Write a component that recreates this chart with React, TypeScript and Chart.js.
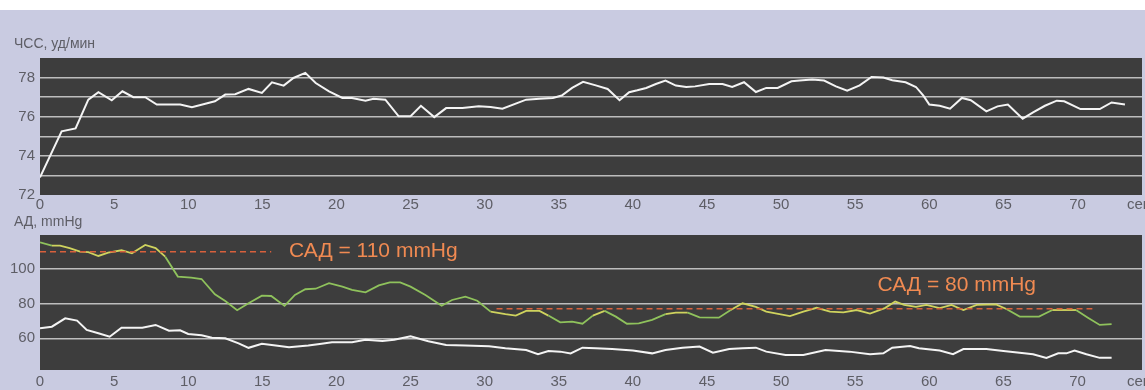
import React, { useEffect, useRef } from "react";
import { Chart, registerables } from "chart.js";
Chart.register(...registerables);

// ---------- data ----------
const xTickValues = [0, 5, 10, 15, 20, 25, 30, 35, 40, 45, 50, 55, 60, 65, 70];
const xUnitLabel = "сек";

const hrTitle = "ЧСС, уд/мин";
const hrGridValues = [72, 73, 74, 75, 76, 77, 78];
const hrTickLabels = [72, 74, 76, 78];
const hrTime = [0, 1.46, 2.4, 3.26, 3.94, 4.84, 5.56, 6.3, 7.1, 7.88, 9.46, 10.25, 11.8, 12.5, 13.17, 14.07, 14.97, 15.65, 16.44, 17.1, 17.9, 18.6, 19.5, 20.4, 21.05, 21.96, 22.5, 23.3, 24.2, 25.0, 25.7, 26.6, 27.4, 28.5, 29.6, 30.4, 31.2, 32.8, 33.7, 34.6, 35.2, 35.9, 36.64, 37.5, 38.3, 39.1, 39.75, 40.3, 40.9, 41.55, 42.2, 42.9, 43.6, 44.2, 45.15, 46.05, 46.7, 47.5, 48.3, 49.0, 49.77, 50.7, 51.25, 52.1, 52.9, 53.7, 54.46, 55.3, 56.1, 56.9, 57.5, 58.4, 59.1, 59.6, 60.0, 60.7, 61.4, 62.2, 62.8, 63.85, 64.6, 65.3, 66.3, 67.0, 67.8, 68.6, 69.1, 70.2, 71.5, 72.3, 73.2];
const hrValue = [72.9, 75.25, 75.4, 76.87, 77.25, 76.84, 77.3, 77.0, 77.0, 76.62, 76.62, 76.48, 76.79, 77.13, 77.15, 77.42, 77.22, 77.76, 77.59, 77.98, 78.24, 77.72, 77.3, 76.96, 76.96, 76.82, 76.92, 76.87, 76.02, 76.02, 76.56, 75.98, 76.44, 76.44, 76.53, 76.5, 76.41, 76.87, 76.92, 76.96, 77.08, 77.47, 77.78, 77.6, 77.42, 76.84, 77.25, 77.35, 77.47, 77.67, 77.85, 77.59, 77.52, 77.55, 77.67, 77.67, 77.52, 77.76, 77.26, 77.47, 77.47, 77.81, 77.85, 77.9, 77.85, 77.55, 77.33, 77.6, 78.03, 78.0, 77.86, 77.76, 77.52, 77.08, 76.62, 76.56, 76.41, 76.96, 76.84, 76.27, 76.53, 76.62, 75.9, 76.22, 76.56, 76.82, 76.79, 76.39, 76.39, 76.73, 76.62];

const bpTitle = "АД, mmHg";
const bpGridValues = [60, 80, 100];
const sysTime = [0, 0.8, 1.35, 2.0, 2.7, 3.26, 3.94, 4.6, 5.5, 6.2, 7.1, 7.8, 8.45, 9.3, 10.2, 10.9, 11.8, 12.5, 13.3, 14.07, 14.97, 15.6, 16.5, 17.2, 17.9, 18.6, 19.5, 20.4, 21.05, 21.96, 22.86, 23.6, 24.3, 25.0, 26.0, 27.1, 27.8, 28.7, 29.5, 30.4, 31.4, 32.1, 32.8, 33.7, 34.3, 35.1, 35.9, 36.6, 37.3, 38.1, 38.85, 39.6, 40.4, 41.3, 42.2, 42.9, 43.7, 44.5, 45.8, 46.6, 47.4, 48.3, 49.0, 50.6, 51.5, 52.4, 53.3, 54.2, 55.1, 56.0, 57.0, 57.7, 58.3, 59.1, 59.8, 60.7, 61.5, 62.3, 63.2, 64.5, 65.2, 66.1, 67.4, 68.3, 69.9, 70.7, 71.5, 72.3];
const sysValue = [115.4, 113.5, 113.5, 112, 110, 109.7, 107.5, 109.4, 110.8, 109, 113.9, 112, 107.1, 95.6, 95, 94.2, 85.4, 81.5, 76.2, 80.2, 84.6, 84.4, 78.7, 85, 88.3, 88.6, 91.8, 89.8, 87.9, 86.5, 90.5, 92.3, 92.3, 89.8, 85, 78.8, 82.1, 84, 81.7, 75.4, 73.9, 73.1, 75.8, 75.8, 73.1, 69.2, 69.6, 68.4, 73.1, 75.8, 72.5, 68.4, 68.6, 70.6, 73.9, 74.8, 74.8, 72.1, 71.9, 76.3, 80.2, 78.1, 75.4, 72.8, 75.4, 77.6, 75.4, 75, 76.3, 74.3, 77.4, 81.2, 79.3, 78.1, 79.3, 77.4, 79.3, 76.3, 79.3, 79.6, 76.9, 72.5, 72.5, 76.3, 76.3, 71.9, 67.7, 68.2];
const diaTime = [0, 0.8, 1.7, 2.5, 3.15, 3.94, 4.7, 5.5, 6.9, 7.8, 8.7, 9.45, 10.0, 10.9, 11.6, 12.5, 13.4, 14.07, 14.97, 15.9, 16.8, 18.1, 19.0, 19.7, 21.05, 21.96, 23.1, 23.9, 25.0, 26.2, 27.4, 28.7, 30.3, 31.4, 32.8, 33.6, 34.3, 35.1, 35.8, 36.6, 37.5, 38.6, 40.0, 41.3, 42.2, 43.35, 44.5, 45.4, 46.5, 47.4, 48.3, 49.0, 50.3, 51.5, 53.0, 54.6, 56.0, 56.9, 57.5, 58.7, 59.3, 60.7, 61.6, 62.3, 63.85, 65.0, 66.4, 67.0, 67.9, 68.7, 69.25, 69.8, 70.6, 71.5, 72.3];
const diaValue = [65.8, 66.7, 71.5, 70.2, 64.8, 62.9, 60.9, 66.1, 66.1, 67.7, 64.4, 64.6, 62.5, 61.7, 60.3, 60, 57.1, 54.5, 56.8, 55.8, 54.8, 55.8, 56.8, 57.7, 57.7, 59.2, 58.5, 59.2, 61.2, 58.3, 56.1, 55.8, 55.4, 54.2, 53.2, 50.8, 52.7, 52.3, 51.3, 54.6, 54.2, 53.8, 52.9, 51.3, 53.2, 54.6, 55.2, 51.7, 53.8, 54.2, 54.6, 52.3, 50.4, 50.4, 53.2, 52.3, 50.8, 51.3, 54.6, 55.6, 54.2, 52.9, 50.8, 53.8, 53.8, 52.7, 51.3, 50.8, 48.7, 51.3, 51.3, 52.9, 50.8, 48.7, 48.7];

// reference (mean pressure) dashed levels
const sadLevels = [110, 77];
const sadStart = [0, 30.8];
const sadEnd = [15.6, 71];
const sadLabels = ["САД = 110 mmHg", "САД = 80 mmHg"];
const sadLabelX = [16.8, 56.5];
const sadLabelY = [110, 90.4];

// ---------- style ----------
const FONT = '"Liberation Sans", Arial, sans-serif';
const TEXT_COLOR = "#5e5e66";
const PAGE_BG = "#c9cbe1";
const PLOT_BG = "#3d3d3d";
const GRID_COLOR = "#bdbdbd";
const ORANGE = "#f08a52";
const DASH_COLOR = "#d8603c";
const GREEN = "#8fc25c";
const YELLOW_GREEN = "#cfd35e";
const WHITE_LINE = "#f4f4f4";
const X_MAX = 74.35;

const toPoints = (xs: number[], ys: number[]) => xs.map((x, i) => ({ x, y: ys[i] }));

const plotBgPlugin = {
  id: "plotBg",
  beforeDraw(chart: any) {
    const { ctx, chartArea } = chart;
    const { left, top, right, bottom } = chartArea;
    ctx.save();
    ctx.fillStyle = PLOT_BG;
    ctx.fillRect(left, top, right - left, bottom - top);
    ctx.restore();
  },
};

function textPlugin(title: string, titleY: number, unitY: number, annotations: boolean) {
  return {
    id: "texts",
    afterDraw(chart: any) {
      const { ctx } = chart;
      ctx.save();
      ctx.fillStyle = TEXT_COLOR;
      ctx.font = `14px ${FONT}`;
      ctx.textBaseline = "middle";
      ctx.textAlign = "left";
      ctx.fillText(title, 14, titleY);
      ctx.font = `15px ${FONT}`;
      ctx.fillText(xUnitLabel, 1127, unitY);
      if (annotations) {
        ctx.fillStyle = ORANGE;
        ctx.font = `21px ${FONT}`;
        sadLabels.forEach((lab, i) => {
          const x = chart.scales.x.getPixelForValue(sadLabelX[i]);
          const y = chart.scales.y.getPixelForValue(sadLabelY[i]);
          ctx.fillText(lab, x, y);
        });
      }
      ctx.restore();
    },
  };
}

function xScale(height: number, padding: number) {
  return {
    type: "linear" as const,
    min: 0,
    max: X_MAX,
    afterFit(scale: any) {
      scale.height = height;
    },
    afterBuildTicks(scale: any) {
      scale.ticks = xTickValues.map((v) => ({ value: v }));
    },
    grid: { display: false, drawTicks: false },
    border: { display: false },
    ticks: {
      color: TEXT_COLOR,
      font: { family: FONT, size: 15 },
      padding,
      maxRotation: 0,
      autoSkip: false,
    },
  };
}

function HrChart() {
  const ref = useRef<HTMLCanvasElement>(null);
  useEffect(() => {
    const chart = new Chart(ref.current!, {
      type: "line",
      data: {
        datasets: [
          {
            data: toPoints(hrTime, hrValue),
            borderColor: WHITE_LINE,
            borderWidth: 2,
            pointRadius: 0,
            tension: 0,
          },
        ],
      },
      options: {
        animation: false,
        responsive: false,
        layout: { padding: { top: 58, right: 3, left: 0, bottom: 0 } },
        plugins: { legend: { display: false }, tooltip: { enabled: false } },
        scales: {
          x: xScale(17, 1),
          y: {
            type: "linear",
            min: 72,
            max: 79,
            afterFit(scale: any) {
              scale.width = 40;
            },
            afterBuildTicks(scale: any) {
              scale.ticks = hrGridValues.map((v) => ({ value: v }));
            },
            grid: {
              drawTicks: false,
              color: (c: any) => (c.tick && c.tick.value === 72 ? "rgba(0,0,0,0)" : GRID_COLOR),
              lineWidth: 1.5,
            },
            border: { display: false },
            ticks: {
              color: TEXT_COLOR,
              font: { family: FONT, size: 15 },
              padding: 5,
              autoSkip: false,
              callback: (v: any) => (hrTickLabels.includes(Number(v)) ? String(v) : ""),
            },
          },
        },
      },
      plugins: [plotBgPlugin, textPlugin(hrTitle, 44, 205, false)],
    } as any);
    return () => chart.destroy();
  }, []);
  return (
    <canvas
      ref={ref}
      width={1145}
      height={212}
      style={{ position: "absolute", left: 0, top: 0, width: 1145, height: 212 }}
    />
  );
}

function BpChart() {
  const ref = useRef<HTMLCanvasElement>(null);
  useEffect(() => {
    const nearLevel = (x: number, y: number) =>
      sadLevels.some((lv, i) => x >= sadStart[i] - 1 && x <= sadEnd[i] + 1 && Math.abs(y - lv) < 4.5);
    const dashed = sadLevels.map((lv, i) => ({
      data: [
        { x: sadStart[i], y: lv },
        { x: sadEnd[i], y: lv },
      ],
      borderColor: DASH_COLOR,
      borderWidth: 1.5,
      borderDash: [6, 4],
      pointRadius: 0,
      tension: 0,
    }));
    const chart = new Chart(ref.current!, {
      type: "line",
      data: {
        datasets: [
          ...dashed,
          {
            data: toPoints(sysTime, sysValue),
            borderColor: GREEN,
            borderWidth: 1.8,
            pointRadius: 0,
            tension: 0,
            segment: {
              borderColor: (c: any) =>
                nearLevel(c.p0.parsed.x, c.p0.parsed.y) && nearLevel(c.p1.parsed.x, c.p1.parsed.y)
                  ? YELLOW_GREEN
                  : GREEN,
            },
          },
          {
            data: toPoints(diaTime, diaValue),
            borderColor: WHITE_LINE,
            borderWidth: 2,
            pointRadius: 0,
            tension: 0,
          },
        ],
      },
      options: {
        animation: false,
        responsive: false,
        layout: { padding: { top: 25, right: 3, left: 0, bottom: 0 } },
        plugins: { legend: { display: false }, tooltip: { enabled: false } },
        scales: {
          x: xScale(20, 3),
          y: {
            type: "linear",
            min: 41.7,
            max: 119.6,
            afterFit(scale: any) {
              scale.width = 40;
            },
            afterBuildTicks(scale: any) {
              scale.ticks = bpGridValues.map((v) => ({ value: v }));
            },
            grid: { drawTicks: false, color: GRID_COLOR, lineWidth: 1.5 },
            border: { display: false },
            ticks: {
              color: TEXT_COLOR,
              font: { family: FONT, size: 15 },
              padding: 5,
              autoSkip: false,
            },
          },
        },
      },
      plugins: [plotBgPlugin, textPlugin(bpTitle, 12, 172, true)],
    } as any);
    return () => chart.destroy();
  }, []);
  return (
    <canvas
      ref={ref}
      width={1145}
      height={180}
      style={{ position: "absolute", left: 0, top: 210, width: 1145, height: 180 }}
    />
  );
}

export default function App() {
  return (
    <div
      style={{
        position: "absolute",
        left: 0,
        top: 0,
        width: 1145,
        height: 390,
        background: PAGE_BG,
        overflow: "hidden",
      }}
    >
      <div style={{ position: "absolute", left: 0, top: 0, width: 1145, height: 10, background: "#ffffff" }} />
      <HrChart />
      <BpChart />
    </div>
  );
}
